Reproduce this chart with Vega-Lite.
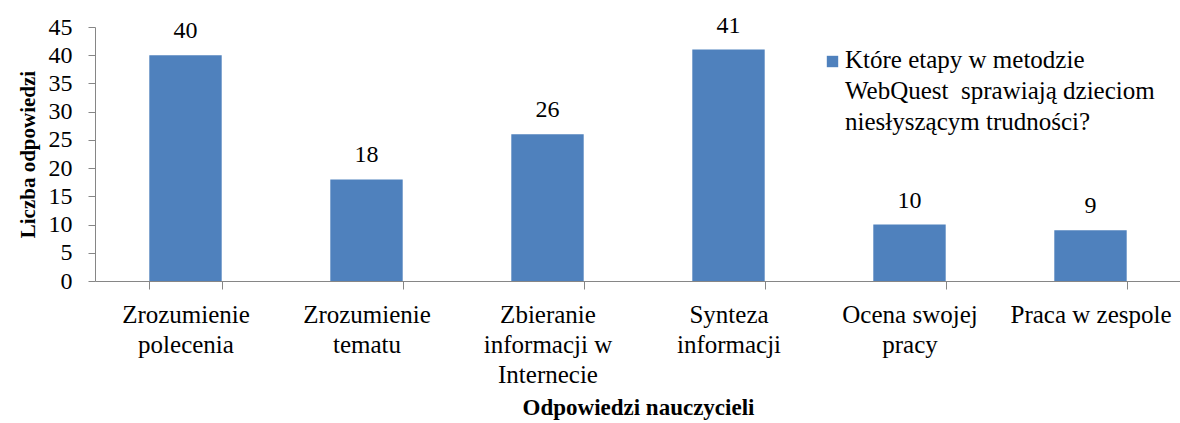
{
  "$schema": "https://vega.github.io/schema/vega-lite/v6.json",
  "width": 1086,
  "height": 254,
  "autosize": {"type": "none"},
  "padding": {"left": 95, "top": 27, "right": 0, "bottom": 142},
  "config": {
    "view": {"stroke": null},
    "font": "Liberation Serif",
    "axis": {"domainColor": "#868686", "tickColor": "#868686", "labelColor": "#000", "titleColor": "#000", "labelFont": "Liberation Serif", "titleFont": "Liberation Serif", "grid": false},
    "legend": {"labelFont": "Liberation Serif"}
  },
  "data": {
    "values": [
      {"etap": "Zrozumienie|polecenia", "n": 40, "seria": "Które etapy w metodzie|WebQuest\u00a0 sprawiają dzieciom|niesłyszącym trudności?"},
      {"etap": "Zrozumienie|tematu", "n": 18, "seria": "Które etapy w metodzie|WebQuest\u00a0 sprawiają dzieciom|niesłyszącym trudności?"},
      {"etap": "Zbieranie|informacji w|Internecie", "n": 26, "seria": "Które etapy w metodzie|WebQuest\u00a0 sprawiają dzieciom|niesłyszącym trudności?"},
      {"etap": "Synteza|informacji", "n": 41, "seria": "Które etapy w metodzie|WebQuest\u00a0 sprawiają dzieciom|niesłyszącym trudności?"},
      {"etap": "Ocena swojej|pracy", "n": 10, "seria": "Które etapy w metodzie|WebQuest\u00a0 sprawiają dzieciom|niesłyszącym trudności?"},
      {"etap": "Praca w zespole", "n": 9, "seria": "Które etapy w metodzie|WebQuest\u00a0 sprawiają dzieciom|niesłyszącym trudności?"}
    ]
  },
  "encoding": {
    "x": {
      "field": "etap", "type": "nominal", "sort": null,
      "scale": {"paddingInner": 0.6, "paddingOuter": 0.3},
      "axis": {
        "title": "Odpowiedzi nauczycieli", "titleFontSize": 23, "titleFontWeight": "bold", "titlePadding": 9,
        "labelAngle": 0, "labelFontSize": 25, "labelExpr": "split(datum.label, '|')", "labelLineHeight": 30,
        "labelPadding": 13, "tickBand": "extent", "tickSize": 8, "labelBound": false
      }
    },
    "y": {
      "field": "n", "type": "quantitative",
      "scale": {"domain": [0, 45]},
      "axis": {
        "title": "Liczba odpowiedzi", "titleFontSize": 21, "titleFontWeight": "bold", "titlePadding": 10,
        "values": [0, 5, 10, 15, 20, 25, 30, 35, 40, 45], "labelFontSize": 24, "tickSize": 7, "labelPadding": 16
      }
    }
  },
  "layer": [
    {
      "mark": {"type": "bar", "color": "#4F81BD"},
      "encoding": {
        "color": {
          "field": "seria", "type": "nominal",
          "scale": {"range": ["#4F81BD"]},
          "legend": {
            "title": null, "orient": "none", "legendX": 725, "legendY": 22,
            "symbolType": "square", "symbolSize": 130, "symbolStrokeWidth": 0,
            "labelFontSize": 25, "labelColor": "#000",
            "labelExpr": "split(datum.label, '|')", "labelLimit": 450, "labelOffset": 0,
            "labelBaseline": "top",
            "encode": {"labels": {"update": {"lineHeight": {"value": 31}, "baseline": {"value": "top"}, "dy": {"value": -14}}}}
          }
        }
      }
    },
    {
      "mark": {"type": "text", "baseline": "bottom", "dy": -12, "fontSize": 24, "font": "Liberation Serif", "color": "#000"},
      "encoding": {"text": {"field": "n", "type": "quantitative"}}
    }
  ]
}
